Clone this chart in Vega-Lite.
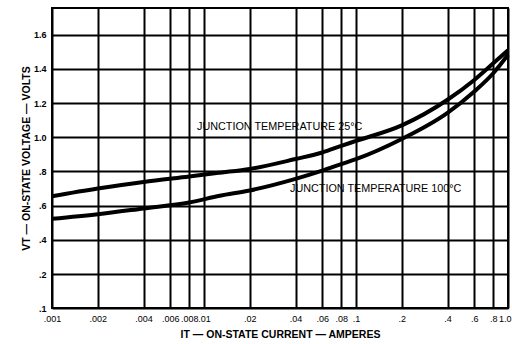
{
  "$schema": "https://vega.github.io/schema/vega-lite/v6.json",
  "width": 456,
  "height": 300,
  "autosize": "none",
  "padding": {"left": 52, "top": 8, "right": 4, "bottom": 36},
  "background": "white",
  "config": {
    "font": "Liberation Sans",
    "view": {"stroke": "black", "strokeWidth": 2}
  },
  "datasets": {
    "curves": [
      {"I": 0.001, "V": 0.655, "T": "25"},
      {"I": 0.002, "V": 0.70, "T": "25"},
      {"I": 0.004, "V": 0.739, "T": "25"},
      {"I": 0.008, "V": 0.771, "T": "25"},
      {"I": 0.0127, "V": 0.793, "T": "25"},
      {"I": 0.02, "V": 0.815, "T": "25"},
      {"I": 0.04, "V": 0.873, "T": "25"},
      {"I": 0.06, "V": 0.911, "T": "25"},
      {"I": 0.08, "V": 0.95, "T": "25"},
      {"I": 0.1, "V": 0.979, "T": "25"},
      {"I": 0.2, "V": 1.07, "T": "25"},
      {"I": 0.4, "V": 1.22, "T": "25"},
      {"I": 0.6, "V": 1.336, "T": "25"},
      {"I": 0.8, "V": 1.433, "T": "25"},
      {"I": 1.0, "V": 1.51, "T": "25"},
      {"I": 0.001, "V": 0.523, "T": "100"},
      {"I": 0.002, "V": 0.55, "T": "100"},
      {"I": 0.004, "V": 0.584, "T": "100"},
      {"I": 0.008, "V": 0.619, "T": "100"},
      {"I": 0.0127, "V": 0.658, "T": "100"},
      {"I": 0.02, "V": 0.689, "T": "100"},
      {"I": 0.04, "V": 0.757, "T": "100"},
      {"I": 0.06, "V": 0.805, "T": "100"},
      {"I": 0.08, "V": 0.843, "T": "100"},
      {"I": 0.1, "V": 0.872, "T": "100"},
      {"I": 0.2, "V": 0.99, "T": "100"},
      {"I": 0.4, "V": 1.143, "T": "100"},
      {"I": 0.6, "V": 1.268, "T": "100"},
      {"I": 0.8, "V": 1.375, "T": "100"},
      {"I": 1.0, "V": 1.483, "T": "100"}
    ],
    "labels": [
      {"I": 0.0090, "V": 1.058, "text": "JUNCTION TEMPERATURE 25°C"},
      {"I": 0.0368, "V": 0.695, "text": "JUNCTION TEMPERATURE 100°C"}
    ]
  },
  "layer": [
    {
      "data": {"name": "curves"},
      "mark": {"type": "line", "color": "black", "strokeWidth": 4, "interpolate": "monotone"},
      "encoding": {
        "x": {
          "field": "I", "type": "quantitative",
          "scale": {"type": "log", "domain": [0.001, 1], "nice": false},
          "axis": {
            "values": [0.001, 0.002, 0.004, 0.006, 0.008, 0.01, 0.02, 0.04, 0.06, 0.08, 0.1, 0.2, 0.4, 0.6, 0.8, 1],
            "tickCount": 40,
            "labelExpr": "datum.value < 1 ? slice(format(datum.value, '~g'), 1) : '1.0'",
            "labelAlign": {"condition": {"test": "datum.value >= 1", "value": "right"}, "value": "center"},
            "labelOffset": {"condition": {"test": "datum.value >= 1", "value": 3}, "value": 0},
            "labelOverlap": false, "labelBound": false,
            "grid": true, "gridColor": "black", "gridWidth": 2, "gridOpacity": 1,
            "ticks": false, "domain": false,
            "labelFontSize": 9, "labelColor": "black", "labelPadding": 6, "labelFlush": false,
            "title": "IT — ON-STATE CURRENT — AMPERES",
            "titleFontSize": 10.5, "titleFontWeight": "bold", "titleColor": "black", "titlePadding": 6
          }
        },
        "y": {
          "field": "V", "type": "quantitative",
          "scale": {"domain": [0.1, 0.2, 1.757], "range": [300, 266, 0], "zero": false, "nice": false},
          "axis": {
            "values": [0.1, 0.2, 0.4, 0.6, 0.8, 1.0, 1.2, 1.4, 1.6],
            "tickCount": 40,
            "labelExpr": "datum.value < 1 ? slice(format(datum.value, '.1f'), 1) : format(datum.value, '.1f')",
            "labelOverlap": false, "labelBound": false,
            "grid": true, "gridColor": "black", "gridWidth": 2, "gridOpacity": 1,
            "ticks": false, "domain": false,
            "labelFontSize": 9, "labelFontWeight": "bold", "labelColor": "black", "labelPadding": 6,
            "title": "VT — ON-STATE VOLTAGE — VOLTS",
            "titleFontSize": 10.5, "titleFontWeight": "bold", "titleColor": "black", "titlePadding": 2
          }
        },
        "detail": {"field": "T"}
      }
    },
    {
      "data": {"name": "labels"},
      "mark": {"type": "text", "align": "left", "baseline": "middle", "fontSize": 10.8, "color": "black", "font": "Liberation Sans"},
      "encoding": {
        "x": {"field": "I", "type": "quantitative"},
        "y": {"field": "V", "type": "quantitative"},
        "text": {"field": "text"}
      }
    }
  ]
}
